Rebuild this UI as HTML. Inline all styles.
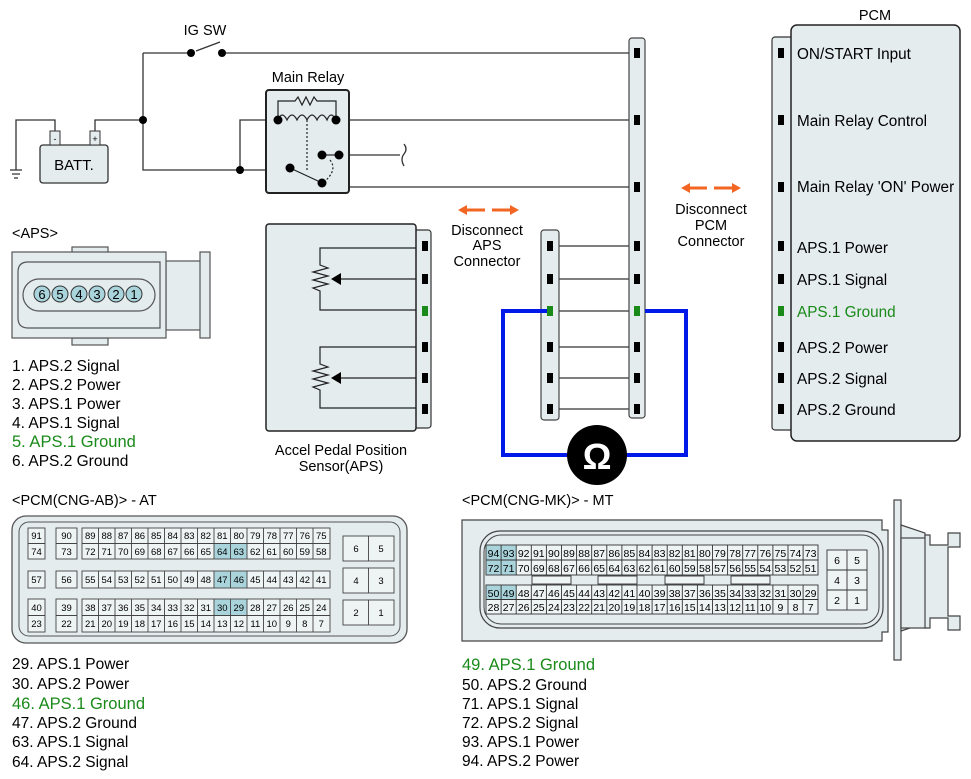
<!DOCTYPE html>
<html><head><meta charset="utf-8"><style>
body{margin:0;background:#fff}
svg{display:block;font-family:"Liberation Sans",Arial,sans-serif}
.g{font-size:9.5px;text-anchor:middle}
.h{font-size:10.5px;text-anchor:middle}
</style></head><body>
<svg width="971" height="779" viewBox="0 0 971 779" xmlns="http://www.w3.org/2000/svg">
<!-- top wiring -->
<g stroke="#333" stroke-width="1.3" fill="none">
<path d="M143,53H191M222,53H637"/>
<path d="M196,51L220,42"/>
<path d="M143,53V170H290"/>
<path d="M95,131V120H143"/>
<path d="M55,131V120H16V170"/>
<path d="M10,170H22M12,174H20M14,178H18"/>
<path d="M240,170V120H278"/>
<path d="M336,120H637"/>
<path d="M338,155H400"/>
<path d="M404,144q4,5 0,10q-4,5 0,12"/>
<path d="M338,155V187H637"/>
<path d="M550,246H637M550,279H637M550,311H637M550,347H637M550,378H637M550,409H637"/>
</g>
<g fill="#000"><circle cx="191" cy="53" r="4"/><circle cx="222" cy="53" r="4"/><circle cx="143" cy="120" r="4"/><circle cx="240" cy="170" r="4"/></g>
<text x="205" y="35" font-size="14.5" text-anchor="middle">IG SW</text>
<!-- battery -->
<rect x="40" y="145" width="68" height="38" rx="3" fill="#e4ecee" stroke="#333" stroke-width="1.3"/>
<rect x="50" y="131" width="10" height="14" fill="#e4ecee" stroke="#333"/>
<rect x="90" y="131" width="10" height="14" fill="#e4ecee" stroke="#333"/>
<text x="55" y="142" font-size="9" text-anchor="middle">-</text>
<text x="95" y="142" font-size="9" text-anchor="middle">+</text>
<text x="74" y="170" font-size="15" text-anchor="middle">BATT.</text>
<!-- relay -->
<text x="308" y="82" font-size="14.5" text-anchor="middle">Main Relay</text>
<rect x="266" y="90" width="83" height="103" rx="3" fill="#e4ecee" stroke="#222" stroke-width="2"/>
<g stroke="#222" stroke-width="1.2" fill="none">
<path d="M278,120V101H295l3,-4l4,8l4,-8l4,8l4,-8l3,4H336V120"/>
<path d="M278,120q4,-10 9,0q5,-10 10,0q5,-10 10,0q5,-10 10,0q5,-10 10,0q4,-10 9,0"/>
<path d="M307,120V170" stroke-dasharray="2,2"/>
<path d="M290,168L318,181"/>
<path d="M322,155H338"/>
<path d="M330,160q8,10 -6,22" stroke-dasharray="2,2"/>
</g>
<g fill="#000"><circle cx="278" cy="120" r="4.5"/><circle cx="336" cy="120" r="4.5"/><circle cx="290" cy="168" r="4.5"/><circle cx="322" cy="183" r="4.5"/><circle cx="322" cy="155" r="4.5"/><circle cx="339" cy="155" r="4.5"/></g>
<!-- PCM connector strip -->
<rect x="629" y="38" width="16" height="380" rx="3" fill="#e4ecee" stroke="#444" stroke-width="1.2"/>
<g fill="#000"><rect x="634" y="48" width="6" height="10"/><rect x="634" y="115" width="6" height="10"/><rect x="634" y="182" width="6" height="10"/><rect x="634" y="241" width="6" height="10"/><rect x="634" y="274" width="6" height="10"/><rect x="634" y="342" width="6" height="10"/><rect x="634" y="373" width="6" height="10"/><rect x="634" y="404" width="6" height="10"/></g>
<!-- APS connector strip -->
<rect x="541" y="230" width="18" height="190" rx="3" fill="#e4ecee" stroke="#444" stroke-width="1.2"/>
<g fill="#000"><rect x="547" y="241" width="6" height="10"/><rect x="547" y="274" width="6" height="10"/><rect x="547" y="342" width="6" height="10"/><rect x="547" y="373" width="6" height="10"/><rect x="547" y="404" width="6" height="10"/></g>
<!-- blue loop -->
<path d="M547,311H503V455H570M624,455H686V311H645" stroke="#0018e8" stroke-width="4" fill="none"/>
<rect x="547" y="306" width="6" height="10" fill="#1a8a1a"/>
<rect x="634" y="306" width="6" height="10" fill="#1a8a1a"/>
<circle cx="597" cy="455" r="30" fill="#000"/>
<text x="597" y="469" font-size="36" font-weight="bold" fill="#fff" text-anchor="middle">Ω</text>
<!-- orange arrows -->
<g stroke="#f26522" stroke-width="3" fill="#f26522">
<path d="M465,210H485"/><path d="M458,210l9,-5v10z" stroke="none"/>
<path d="M492,210H512"/><path d="M519,210l-9,-5v10z" stroke="none"/>
<path d="M688,188H707"/><path d="M681,188l9,-5v10z" stroke="none"/>
<path d="M714,188H734"/><path d="M741,188l-9,-5v10z" stroke="none"/>
</g>
<g font-size="14.5" text-anchor="middle">
<text x="487" y="235">Disconnect</text><text x="487" y="250">APS</text><text x="487" y="266">Connector</text>
<text x="711" y="214">Disconnect</text><text x="711" y="230">PCM</text><text x="711" y="246">Connector</text>
</g>
<!-- PCM box -->
<text x="875" y="20" font-size="14.5" text-anchor="middle">PCM</text>
<rect x="772" y="37" width="24" height="393" rx="3" fill="#e4ecee" stroke="#333" stroke-width="1.2"/>
<rect x="791" y="25" width="169" height="416" rx="6" fill="#e4ecee" stroke="#222" stroke-width="1.5"/>
<g fill="#000"><rect x="778" y="48" width="6" height="10"/><rect x="778" y="115" width="6" height="10"/><rect x="778" y="182" width="6" height="10"/><rect x="778" y="241" width="6" height="10"/><rect x="778" y="274" width="6" height="10"/><rect x="778" y="342" width="6" height="10"/><rect x="778" y="373" width="6" height="10"/><rect x="778" y="404" width="6" height="10"/></g>
<rect x="778" y="306" width="6" height="10" fill="#1a8a1a"/>
<g font-size="15.3">
<text x="797" y="59">ON/START Input</text>
<text x="797" y="126">Main Relay Control</text>
<text x="797" y="192">Main Relay 'ON' Power</text>
<text x="797" y="253">APS.1 Power</text>
<text x="797" y="285">APS.1 Signal</text>
<text x="797" y="317" fill="#1a8a1a">APS.1 Ground</text>
<text x="797" y="353">APS.2 Power</text>
<text x="797" y="384">APS.2 Signal</text>
<text x="797" y="415">APS.2 Ground</text>
</g>
<!-- APS sensor -->
<rect x="414" y="230" width="17" height="198" rx="3" fill="#e4ecee" stroke="#333" stroke-width="1.2"/>
<rect x="266" y="224" width="150" height="207" rx="3" fill="#e4ecee" stroke="#222" stroke-width="1.5"/>
<g fill="#000"><rect x="422" y="241" width="6" height="10"/><rect x="422" y="274" width="6" height="10"/><rect x="422" y="342" width="6" height="10"/><rect x="422" y="373" width="6" height="10"/><rect x="422" y="404" width="6" height="10"/></g>
<rect x="422" y="306" width="6" height="10" fill="#1a8a1a"/>
<g stroke="#222" stroke-width="1.2" fill="none">
<path d="M416,248H320V265l8,3l-15,4l15,4l-15,4l15,4l-15,4l7,3V310H416"/>
<path d="M416,279H340"/>
<path d="M416,347H320V364l8,3l-15,4l15,4l-15,4l15,4l-15,4l7,3V408H416"/>
<path d="M416,378H340"/>
</g>
<path d="M331,279l10,-6v12z" fill="#000"/>
<path d="M331,378l10,-6v12z" fill="#000"/>
<text x="341" y="455" font-size="14.5" text-anchor="middle">Accel Pedal Position</text>
<text x="341" y="471" font-size="14.5" text-anchor="middle">Sensor(APS)</text>
<!-- APS connector drawing -->
<text x="12" y="238" font-size="14.5">&lt;APS&gt;</text>
<g fill="#e4ecee" stroke="#555" stroke-width="1.2">
<rect x="72" y="247" width="36" height="6"/>
<rect x="72" y="338" width="36" height="7"/>
<rect x="166" y="261" width="35" height="69"/>
<rect x="200" y="252" width="10" height="86"/>
<rect x="12" y="252" width="154" height="86"/>
<path d="M28,262H160V328H28Q18,328 18,318V272Q18,262 28,262z" fill="#e4ecee"/>
<rect x="23" y="279" width="132" height="32" rx="16"/>
</g>
<g fill="#a9d4dc" stroke="#333" stroke-width="1"><circle cx="42" cy="294" r="8"/><circle cx="60" cy="294" r="8"/><circle cx="79" cy="294" r="8"/><circle cx="97" cy="294" r="8"/><circle cx="116" cy="294" r="8"/><circle cx="134" cy="294" r="8"/></g>
<g font-size="13" text-anchor="middle"><text x="42" y="299">6</text><text x="60" y="299">5</text><text x="79" y="299">4</text><text x="97" y="299">3</text><text x="116" y="299">2</text><text x="134" y="299">1</text></g>
<g font-size="15.5">
<text x="12" y="371">1. APS.2 Signal</text>
<text x="12" y="390">2. APS.2 Power</text>
<text x="12" y="409">3. APS.1 Power</text>
<text x="12" y="428">4. APS.1 Signal</text>
<text x="12" y="447" fill="#1a8a1a" font-size="16.5">5. APS.1 Ground</text>
<text x="12" y="466">6. APS.2 Ground</text>
</g>
<!-- PCM AT connector -->
<text x="12" y="505" font-size="14.5">&lt;PCM(CNG-AB)&gt; - AT</text>
<rect x="12" y="516" width="395" height="127" rx="14" fill="#e4ecee" stroke="#555" stroke-width="1.3"/>
<rect x="19" y="522" width="381" height="114" rx="10" fill="none" stroke="#555"/>
<g fill="#eef3f4" stroke="#444" stroke-width="0.9">
<rect x="28" y="528" width="17" height="31"/><rect x="56" y="528" width="21" height="31"/><rect x="82" y="528" width="248" height="31"/>
<rect x="28" y="571" width="17" height="17"/><rect x="56" y="571" width="21" height="17"/><rect x="82" y="571" width="248" height="17"/>
<rect x="28" y="599" width="17" height="33"/><rect x="56" y="599" width="21" height="33"/><rect x="82" y="599" width="248" height="33"/>
</g>
<g fill="#a9d4dc"><rect x="214.5" y="543.5" width="33" height="15"/><rect x="214.5" y="571.5" width="33" height="16"/><rect x="214.5" y="599.5" width="33" height="16"/></g>
<g stroke="#444" stroke-width="0.9" fill="none">
<path d="M28,543.5H45M56,543.5H77M82,543.5H330M28,615.5H45M56,615.5H77M82,615.5H330"/>
<path d="M98.5,528V559M115,528V559M131.5,528V559M148,528V559M164.5,528V559M181,528V559M197.5,528V559M214,528V559M230.5,528V559M247,528V559M263.5,528V559M280,528V559M296.5,528V559M313,528V559"/>
<path d="M98.5,571V588M115,571V588M131.5,571V588M148,571V588M164.5,571V588M181,571V588M197.5,571V588M214,571V588M230.5,571V588M247,571V588M263.5,571V588M280,571V588M296.5,571V588M313,571V588"/>
<path d="M98.5,599V632M115,599V632M131.5,599V632M148,599V632M164.5,599V632M181,599V632M197.5,599V632M214,599V632M230.5,599V632M247,599V632M263.5,599V632M280,599V632M296.5,599V632M313,599V632"/>
<rect x="343" y="536" width="51" height="25" fill="#eef3f4"/><rect x="343" y="568" width="51" height="25" fill="#eef3f4"/><rect x="343" y="600" width="51" height="25" fill="#eef3f4"/>
<path d="M368.5,536V561M368.5,568V593M368.5,600V625"/>
</g>
<g class="g">
<text x="36.5" y="539">91</text><text x="66.5" y="539">90</text>
<text x="36.5" y="555">74</text><text x="66.5" y="555">73</text>
<text x="36.5" y="583">57</text><text x="66.5" y="583">56</text>
<text x="36.5" y="611">40</text><text x="66.5" y="611">39</text>
<text x="36.5" y="627">23</text><text x="66.5" y="627">22</text>
<text x="90.3" y="539">89</text><text x="106.8" y="539">88</text><text x="123.3" y="539">87</text><text x="139.8" y="539">86</text><text x="156.3" y="539">85</text><text x="172.8" y="539">84</text><text x="189.3" y="539">83</text><text x="205.8" y="539">82</text><text x="222.3" y="539">81</text><text x="238.8" y="539">80</text><text x="255.3" y="539">79</text><text x="271.8" y="539">78</text><text x="288.3" y="539">77</text><text x="304.8" y="539">76</text><text x="321.3" y="539">75</text>
<text x="90.3" y="555">72</text><text x="106.8" y="555">71</text><text x="123.3" y="555">70</text><text x="139.8" y="555">69</text><text x="156.3" y="555">68</text><text x="172.8" y="555">67</text><text x="189.3" y="555">66</text><text x="205.8" y="555">65</text><text x="222.3" y="555">64</text><text x="238.8" y="555">63</text><text x="255.3" y="555">62</text><text x="271.8" y="555">61</text><text x="288.3" y="555">60</text><text x="304.8" y="555">59</text><text x="321.3" y="555">58</text>
<text x="90.3" y="583">55</text><text x="106.8" y="583">54</text><text x="123.3" y="583">53</text><text x="139.8" y="583">52</text><text x="156.3" y="583">51</text><text x="172.8" y="583">50</text><text x="189.3" y="583">49</text><text x="205.8" y="583">48</text><text x="222.3" y="583">47</text><text x="238.8" y="583">46</text><text x="255.3" y="583">45</text><text x="271.8" y="583">44</text><text x="288.3" y="583">43</text><text x="304.8" y="583">42</text><text x="321.3" y="583">41</text>
<text x="90.3" y="611">38</text><text x="106.8" y="611">37</text><text x="123.3" y="611">36</text><text x="139.8" y="611">35</text><text x="156.3" y="611">34</text><text x="172.8" y="611">33</text><text x="189.3" y="611">32</text><text x="205.8" y="611">31</text><text x="222.3" y="611">30</text><text x="238.8" y="611">29</text><text x="255.3" y="611">28</text><text x="271.8" y="611">27</text><text x="288.3" y="611">26</text><text x="304.8" y="611">25</text><text x="321.3" y="611">24</text>
<text x="90.3" y="627">21</text><text x="106.8" y="627">20</text><text x="123.3" y="627">19</text><text x="139.8" y="627">18</text><text x="156.3" y="627">17</text><text x="172.8" y="627">16</text><text x="189.3" y="627">15</text><text x="205.8" y="627">14</text><text x="222.3" y="627">13</text><text x="238.8" y="627">12</text><text x="255.3" y="627">11</text><text x="271.8" y="627">10</text><text x="288.3" y="627">9</text><text x="304.8" y="627">8</text><text x="321.3" y="627">7</text>
<text x="356" y="552">6</text><text x="381" y="552">5</text><text x="356" y="584">4</text><text x="381" y="584">3</text><text x="356" y="616">2</text><text x="381" y="616">1</text>
</g>
<g font-size="15.5">
<text x="12" y="669">29. APS.1 Power</text>
<text x="12" y="689">30. APS.2 Power</text>
<text x="12" y="709" fill="#1a8a1a" font-size="16.5">46. APS.1 Ground</text>
<text x="12" y="728">47. APS.2 Ground</text>
<text x="12" y="747">63. APS.1 Signal</text>
<text x="12" y="767">64. APS.2 Signal</text>
</g>
<!-- PCM MT connector -->
<text x="462" y="505" font-size="14.5">&lt;PCM(CNG-MK)&gt; - MT</text>
<g fill="#e4ecee" stroke="#444" stroke-width="1.2">
<rect x="894" y="500" width="7" height="160"/>
<path d="M901,525L925,533V623L901,631z"/>
<rect x="901" y="538" width="25" height="90"/>
<path d="M925,535H930V545H948V533H960V547H948V616H960V630H948V618H930V628H925z"/>
<path d="M462,520H882V530H888V632H882V641H462z"/>
</g>
<rect x="480" y="531" width="403" height="97" rx="20" fill="none" stroke="#444" stroke-width="1.2"/>
<rect x="484" y="535" width="395" height="89" rx="17" fill="none" stroke="#444" stroke-width="1"/>
<g fill="#eef3f4" stroke="#333" stroke-width="0.9">
<rect x="486" y="545" width="332" height="30"/>
<rect x="486" y="585" width="332" height="29"/>
<rect x="532" y="576" width="39" height="8"/><rect x="598" y="576" width="39" height="8"/><rect x="665" y="576" width="39" height="8"/><rect x="731" y="576" width="39" height="8"/>
<rect x="827" y="550" width="40" height="60"/>
</g>
<g fill="#a9d4dc"><rect x="486.5" y="545.5" width="29.7" height="29"/><rect x="486.5" y="585.5" width="29.7" height="14"/></g>
<g stroke="#333" stroke-width="0.9" fill="none">
<path d="M486,560H818M486,599.5H818M827,570H867M827,590H867M847,550V610"/>
<path d="M501.1,545V575M516.2,545V575M531.3,545V575M546.4,545V575M561.5,545V575M576.6,545V575M591.7,545V575M606.8,545V575M621.9,545V575M637,545V575M652.1,545V575M667.2,545V575M682.3,545V575M697.4,545V575M712.5,545V575M727.6,545V575M742.7,545V575M757.8,545V575M772.9,545V575M788,545V575M803.1,545V575"/>
<path d="M501.1,585V614M516.2,585V614M531.3,585V614M546.4,585V614M561.5,585V614M576.6,585V614M591.7,585V614M606.8,585V614M621.9,585V614M637,585V614M652.1,585V614M667.2,585V614M682.3,585V614M697.4,585V614M712.5,585V614M727.6,585V614M742.7,585V614M757.8,585V614M772.9,585V614M788,585V614M803.1,585V614"/>
</g>
<g class="h">
<text x="493.5" y="557">94</text><text x="508.6" y="557">93</text><text x="523.7" y="557">92</text><text x="538.8" y="557">91</text><text x="553.9" y="557">90</text><text x="569" y="557">89</text><text x="584.1" y="557">88</text><text x="599.2" y="557">87</text><text x="614.3" y="557">86</text><text x="629.4" y="557">85</text><text x="644.5" y="557">84</text><text x="659.6" y="557">83</text><text x="674.7" y="557">82</text><text x="689.8" y="557">81</text><text x="704.9" y="557">80</text><text x="720" y="557">79</text><text x="735.1" y="557">78</text><text x="750.2" y="557">77</text><text x="765.3" y="557">76</text><text x="780.4" y="557">75</text><text x="795.5" y="557">74</text><text x="810.6" y="557">73</text>
<text x="493.5" y="572">72</text><text x="508.6" y="572">71</text><text x="523.7" y="572">70</text><text x="538.8" y="572">69</text><text x="553.9" y="572">68</text><text x="569" y="572">67</text><text x="584.1" y="572">66</text><text x="599.2" y="572">65</text><text x="614.3" y="572">64</text><text x="629.4" y="572">63</text><text x="644.5" y="572">62</text><text x="659.6" y="572">61</text><text x="674.7" y="572">60</text><text x="689.8" y="572">59</text><text x="704.9" y="572">58</text><text x="720" y="572">57</text><text x="735.1" y="572">56</text><text x="750.2" y="572">55</text><text x="765.3" y="572">54</text><text x="780.4" y="572">53</text><text x="795.5" y="572">52</text><text x="810.6" y="572">51</text>
<text x="493.5" y="597">50</text><text x="508.6" y="597">49</text><text x="523.7" y="597">48</text><text x="538.8" y="597">47</text><text x="553.9" y="597">46</text><text x="569" y="597">45</text><text x="584.1" y="597">44</text><text x="599.2" y="597">43</text><text x="614.3" y="597">42</text><text x="629.4" y="597">41</text><text x="644.5" y="597">40</text><text x="659.6" y="597">39</text><text x="674.7" y="597">38</text><text x="689.8" y="597">37</text><text x="704.9" y="597">36</text><text x="720" y="597">35</text><text x="735.1" y="597">34</text><text x="750.2" y="597">33</text><text x="765.3" y="597">32</text><text x="780.4" y="597">31</text><text x="795.5" y="597">30</text><text x="810.6" y="597">29</text>
<text x="493.5" y="611">28</text><text x="508.6" y="611">27</text><text x="523.7" y="611">26</text><text x="538.8" y="611">25</text><text x="553.9" y="611">24</text><text x="569" y="611">23</text><text x="584.1" y="611">22</text><text x="599.2" y="611">21</text><text x="614.3" y="611">20</text><text x="629.4" y="611">19</text><text x="644.5" y="611">18</text><text x="659.6" y="611">17</text><text x="674.7" y="611">16</text><text x="689.8" y="611">15</text><text x="704.9" y="611">14</text><text x="720" y="611">13</text><text x="735.1" y="611">12</text><text x="750.2" y="611">11</text><text x="765.3" y="611">10</text><text x="780.4" y="611">9</text><text x="795.5" y="611">8</text><text x="810.6" y="611">7</text>
<text x="837" y="564">6</text><text x="857" y="564">5</text><text x="837" y="584">4</text><text x="857" y="584">3</text><text x="837" y="604">2</text><text x="857" y="604">1</text>
</g>
<g font-size="15.5">
<text x="462" y="670" fill="#1a8a1a" font-size="16.5">49. APS.1 Ground</text>
<text x="462" y="690">50. APS.2 Ground</text>
<text x="462" y="709">71. APS.1 Signal</text>
<text x="462" y="728">72. APS.2 Signal</text>
<text x="462" y="747">93. APS.1 Power</text>
<text x="462" y="766">94. APS.2 Power</text>
</g>
</svg>
</body></html>
